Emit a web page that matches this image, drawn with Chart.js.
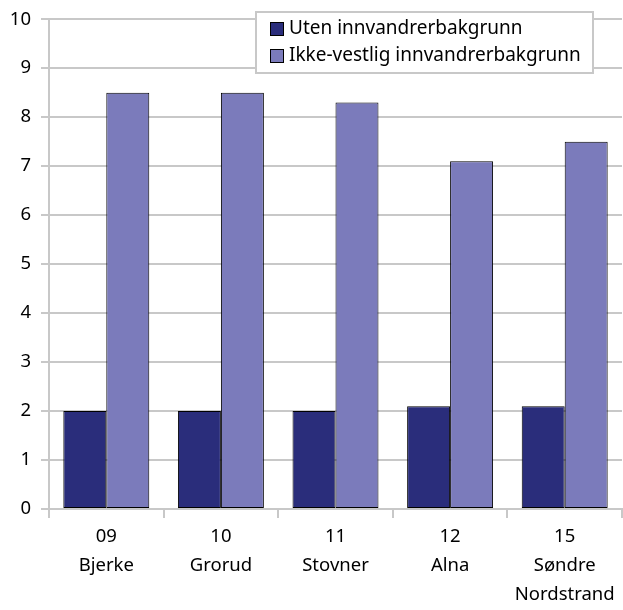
<!DOCTYPE html>
<html>
<head>
<meta charset="utf-8">
<script src="https://cdn.jsdelivr.net/npm/chart.js@4.4.0/dist/chart.umd.min.js"></script>
<style>
html,body{margin:0;padding:0;background:#fff;}
#wrap{width:623px;height:610px;}
</style>
</head>
<body>
<div id="wrap"><canvas id="c" width="623" height="610"></canvas></div>
<script>
const categories = [['09','Bjerke'], ['10','Grorud'], ['11','Stovner'], ['12','Alna'], ['15','Søndre','Nordstrand']];
const seriesNames = ['Uten innvandrerbakgrunn', 'Ikke-vestlig innvandrerbakgrunn'];
const utenValues = [2, 2, 2, 2.1, 2.1];
const ikkeVestligValues = [8.5, 8.5, 8.3, 7.1, 7.5];
const yTicks = [0,1,2,3,4,5,6,7,8,9,10];

const FONT = '"Noto Sans", "Open Sans", sans-serif';
const colors = ['#2a2d7b', '#7b7bbb'];

const boxLegend = {
  id: 'boxLegend',
  afterDraw(chart) {
    const ctx = chart.ctx;
    const x = 256, y = 12, w = 337, h = 61;
    ctx.save();
    ctx.fillStyle = '#fff';
    ctx.fillRect(x, y, w, h);
    ctx.strokeStyle = '#c8c8c8';
    ctx.lineWidth = 2;
    ctx.strokeRect(x, y, w, h);
    ctx.font = '19px ' + FONT;
    ctx.textBaseline = 'middle';
    chart.data.datasets.forEach((ds, i) => {
      const cy = 29 + i * 27;
      ctx.fillStyle = ds.backgroundColor;
      ctx.fillRect(270.5, cy - 6.5, 13, 13);
      ctx.strokeStyle = '#000';
      ctx.lineWidth = 1;
      ctx.strokeRect(270.5, cy - 6.5, 13, 13);
      ctx.fillStyle = '#000';
      ctx.fillText(ds.label, 289, cy);
    });
    ctx.restore();
  }
};

new Chart(document.getElementById('c'), {
  type: 'bar',
  data: {
    labels: categories,
    datasets: [
      { label: seriesNames[0], data: utenValues, backgroundColor: colors[0], borderColor: '#000', borderWidth: 1, borderSkipped: false },
      { label: seriesNames[1], data: ikkeVestligValues, backgroundColor: colors[1], borderColor: '#000', borderWidth: 1, borderSkipped: false }
    ]
  },
  options: {
    responsive: false,
    animation: false,
    layout: { padding: { top: 18, right: 1, left: 0, bottom: 0 } },
    datasets: { bar: { categoryPercentage: 0.75, barPercentage: 1 } },
    plugins: { legend: { display: false }, tooltip: { enabled: false } },
    scales: {
      x: {
        offset: true,
        grid: { offset: true, drawOnChartArea: false, drawTicks: true, tickLength: 9, color: '#c8c8c8', lineWidth: 2 },
        border: { color: '#c8c8c8', width: 2 },
        ticks: { color: '#000', font: { family: FONT, size: 18.5, lineHeight: '29px' }, padding: 4, maxRotation: 0, autoSkip: false },
        afterFit(s) { s.height = 101; }
      },
      y: {
        min: 0, max: 10,
        afterBuildTicks(s) { s.ticks = yTicks.map(v => ({ value: v })); },
        grid: { color: '#c8c8c8', lineWidth: 2, tickLength: 8 },
        border: { color: '#c8c8c8', width: 2 },
        ticks: { color: '#000', font: { family: FONT, size: 18.5, lineHeight: 1 }, padding: 10 },
        afterFit(s) { s.width = 49; }
      }
    }
  },
  plugins: [boxLegend]
});
</script>
</body>
</html>
